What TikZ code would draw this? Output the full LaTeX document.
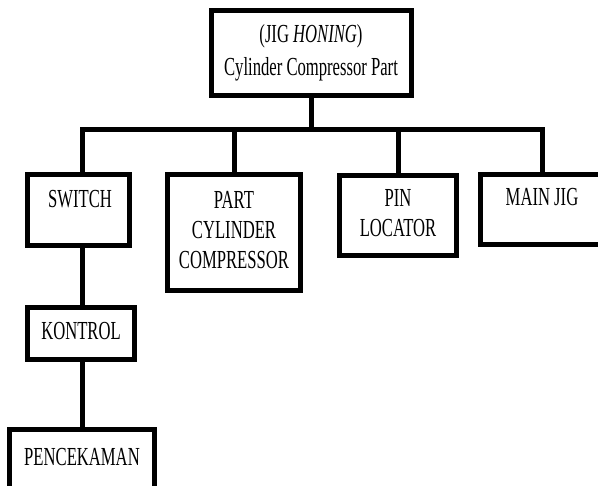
\documentclass[tikz,border=0pt]{standalone}
\usepackage{fontspec}
\setmainfont{Liberation Serif}
\usepackage{graphicx}

% narrow text, as in the chart
\newcommand{\sqz}[1]{\scalebox{0.64}[1]{\begin{tabular}{@{}c@{}}#1\end{tabular}}}

\begin{document}
\begin{tikzpicture}[x=1pt, y=-1pt,
    blok/.style={draw, rectangle, line width=5pt, inner sep=0pt, font=\fontsize{26}{30}\selectfont},
    txt/.style={inner sep=0pt, font=\fontsize{26}{30}\selectfont},
    wire/.style={line width=5pt}]

\useasboundingbox (0,0) rectangle (598,486);
\clip (0,0) rectangle (598,486);

% --- LEVEL 0: Jig ---

\node[blok, minimum width=200pt, minimum height=85pt] (jig) at (311,53)
    {\sqz{(JIG \textit{HONING})\\[3pt] Cylinder Compressor Part}};

% Bus
\coordinate (bus_l) at (82,130);
\coordinate (bus_r) at (542,130);
\draw[wire] (jig.south) -- (jig.south |- bus_l);


% --- LEVEL 1 ---

% Switch
\node[blok, minimum width=102pt, minimum height=71pt] (sw) at (78.5,210) {};
\node[txt] (sw_txt) at (80,202) {\sqz{SWITCH}};

% Part cylinder compressor
\node[blok, minimum width=133pt, minimum height=116pt] (part) at (234,232.5)
    {\sqz{PART\\ CYLINDER\\ COMPRESSOR}};

% Pin locator
\node[blok, minimum width=117pt, minimum height=80pt] (pin) at (398,215.5)
    {\sqz{PIN\\ LOCATOR}};

% Main jig
\node[blok, minimum width=129pt, minimum height=70pt] (mj) at (545,209.5) {};
\node[txt] (mj_txt) at (542,200) {\sqz{MAIN JIG}};

% Bus to level 1
\draw[wire] (sw.north -| bus_l) -- (bus_l) -- (bus_r) -- (mj.north -| bus_r);
\draw[wire] (part.north) -- (part.north |- bus_l);
\draw[wire] (pin.north) -- (pin.north |- bus_l);


% --- LEVEL 2-3: Kontrol, Pencekaman ---

\node[blok, minimum width=107pt, minimum height=52pt] (kon) at (81,333.5) {\sqz{KONTROL}};
\node[blok, minimum width=145pt, minimum height=60pt] (pen) at (82,459.5) {\sqz{PENCEKAMAN}};

\draw[wire] (sw.south -| bus_l) -- (kon.north -| bus_l);
\draw[wire] (kon.south -| bus_l) -- (pen.north -| bus_l);

\end{tikzpicture}
\end{document}
